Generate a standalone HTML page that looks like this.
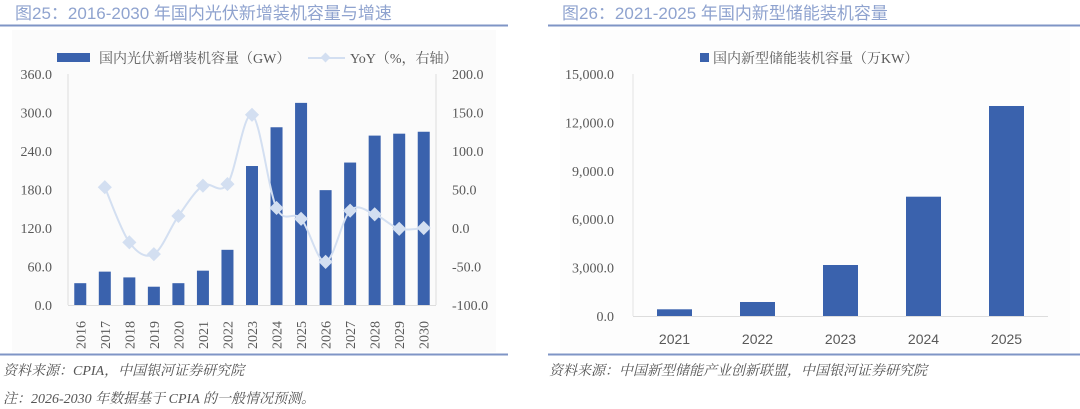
<!DOCTYPE html>
<html><head><meta charset="utf-8"><style>
body{margin:0;width:1080px;height:409px;background:#fff;overflow:hidden;font-family:"Liberation Serif","Noto Serif CJK SC",serif;}
svg{position:absolute;left:0;top:0}
</style></head><body>
<svg id="c" width="1080" height="409">
<rect x="12" y="30" width="484" height="322" fill="#fbfbfb"/>
<rect x="560" y="30" width="510" height="322" fill="#fdfdfd"/>
<text x="15" y="19" font-size="17" fill="#8fa3cf" font-family="Liberation Sans,Noto Sans CJK SC,sans-serif">图25：2016-2030 年国内光伏新增装机容量与增速</text>
<line x1="0" y1="25.5" x2="508" y2="25.5" stroke="#7f95c6" stroke-width="2"/>
<line x1="0" y1="354.5" x2="508" y2="354.5" stroke="#7f95c6" stroke-width="2"/>
<text x="3" y="375" font-size="14" font-style="italic" fill="#555">资料来源：CPIA，中国银河证券研究院</text>
<text x="3" y="403" font-size="14" font-style="italic" fill="#555">注：2026-2030 年数据基于 CPIA 的一般情况预测。</text>
<text x="562" y="19" font-size="17" fill="#8fa3cf" font-family="Liberation Sans,Noto Sans CJK SC,sans-serif">图26：2021-2025 年国内新型储能装机容量</text>
<line x1="548" y1="25.5" x2="1080" y2="25.5" stroke="#7f95c6" stroke-width="2"/>
<line x1="548" y1="354.5" x2="1080" y2="354.5" stroke="#7f95c6" stroke-width="2"/>
<text x="549" y="375" font-size="14" font-style="italic" fill="#555">资料来源：中国新型储能产业创新联盟，中国银河证券研究院</text>
<g id="L"></g><g id="R"></g>
</svg>
<script>
const years=["2016","2017","2018","2019","2020","2021","2022","2023","2024","2025","2026","2027","2028","2029","2030"];
const pvCapacity=[34,52,43,28.5,34,53.5,86,216.6,277,315,179,222,264,267,270];
const pvYoY=[null,53,-18.6,-34,15.6,55,57,147,26,12,-44,22.5,17.8,-1,0];
const leftTicks=["0.0","60.0","120.0","180.0","240.0","300.0","360.0"];
const rightTicks=["-100.0","-50.0","0.0","50.0","100.0","150.0","200.0"];
const esYears=["2021","2022","2023","2024","2025"];
const esCapacity=[415,868,3161,7395,13017];
const esTicks=["0.0","3,000.0","6,000.0","9,000.0","12,000.0","15,000.0"];
const NS="http://www.w3.org/2000/svg";
function mk(p,t,a,txt){const e=document.createElementNS(NS,t);for(const k in a)e.setAttribute(k,a[k]);if(txt!=null)e.textContent=txt;p.appendChild(e);return e;}
const L=document.getElementById('L'),R=document.getElementById('R');
// left axes
const x0=68,x1=436,yb=305,yt=74,bw=(x1-x0)/years.length;
const yL=v=>yb-(v/360)*(yb-yt), yR=v=>yb-((v+100)/300)*(yb-yt), xc=i=>x0+bw*(i+0.5);
let e;
e=mk(L,'line',{x1:x0,y1:yt,x2:x0,y2:yb,stroke:'#ddd'});


e=mk(L,'line',{x1:x1,y1:yt,x2:x1,y2:yb,stroke:'#ddd'});


e=mk(L,'line',{x1:x0,y1:yb+0.5,x2:x1,y2:yb+0.5,stroke:'#ddd'});


leftTicks.forEach((t,i)=>{e=mk(L,'text',{x:52,y:yL(i*60)+5,'text-anchor':'end','font-size':14,fill:'#595959'},t);

});
rightTicks.forEach((t,i)=>{e=mk(L,'text',{x:452,y:yR(-100+i*50)+5,'font-size':14,fill:'#595959'},t);

});
pvCapacity.forEach((v,i)=>{e=mk(L,'rect',{x:xc(i)-6,y:yL(v),width:12,height:yb-yL(v),fill:'#3a62ad'});

});
years.forEach((y,i)=>{e=mk(L,'text',{x:0,y:0,transform:`translate(${xc(i)+5},349) rotate(-90)`,'font-size':14,fill:'#595959'},y);

});
// smooth line
const pts=pvYoY.map((v,i)=>v==null?null:[xc(i),yR(v)]).filter(p=>p);
let d=`M${pts[0][0]},${pts[0][1]}`;
for(let i=0;i<pts.length-1;i++){const p0=pts[i-1]||pts[i],p1=pts[i],p2=pts[i+1],p3=pts[i+2]||p2;
d+=` C${p1[0]+(p2[0]-p0[0])/6},${p1[1]+(p2[1]-p0[1])/6} ${p2[0]-(p3[0]-p1[0])/6},${p2[1]-(p3[1]-p1[1])/6} ${p2[0]},${p2[1]}`;}
e=mk(L,'path',{d:d,fill:'none',stroke:'#d3dff1','stroke-width':2});


pts.forEach(p=>{e=mk(L,'rect',{x:p[0]-5,y:p[1]-5,width:10,height:10,fill:'#d3dff1',transform:`rotate(45 ${p[0]} ${p[1]})`});

});
// left legend
e=mk(L,'rect',{x:57,y:53,width:33,height:9,fill:'#3a62ad'});


e=mk(L,'text',{x:99,y:63,'font-size':14,fill:'#595959'},'国内光伏新增装机容量（GW）');


e=mk(L,'line',{x1:308,y1:58,x2:345,y2:58,stroke:'#d3dff1','stroke-width':2});


e=mk(L,'rect',{x:322,y:54,width:7,height:7,fill:'#d3dff1',transform:'rotate(45 325.5 57.5)'});


e=mk(L,'text',{x:350,y:63,'font-size':14,fill:'#595959'},'YoY（%，右轴）');


// right chart
const rx0=633,rx1=1048,ryb=316,ryt=74,rbw=(rx1-rx0)/esYears.length;
const yE=v=>ryb-(v/15000)*(ryb-ryt), xE=i=>rx0+rbw*(i+0.5);
e=mk(R,'line',{x1:rx0,y1:ryt,x2:rx0,y2:ryb,stroke:'#e4e4e4'});


e=mk(R,'line',{x1:rx0,y1:ryb+0.5,x2:rx1,y2:ryb+0.5,stroke:'#ddd'});


esTicks.forEach((t,i)=>{e=mk(R,'text',{x:614,y:yE(i*3000)+5,'text-anchor':'end','font-size':14,fill:'#595959'},t);

});
esCapacity.forEach((v,i)=>{e=mk(R,'rect',{x:xE(i)-17.5,y:yE(v),width:35,height:ryb-yE(v),fill:'#3a62ad'});

});
esYears.forEach((y,i)=>{e=mk(R,'text',{x:xE(i),y:344,'text-anchor':'middle','font-size':14,fill:'#595959','font-family':'Liberation Sans,sans-serif'},y);

});
e=mk(R,'rect',{x:700,y:53,width:9,height:9,fill:'#3a62ad'});


e=mk(R,'text',{x:713,y:63,'font-size':14,fill:'#595959'},'国内新型储能装机容量（万KW）');


</script>
</body></html>
